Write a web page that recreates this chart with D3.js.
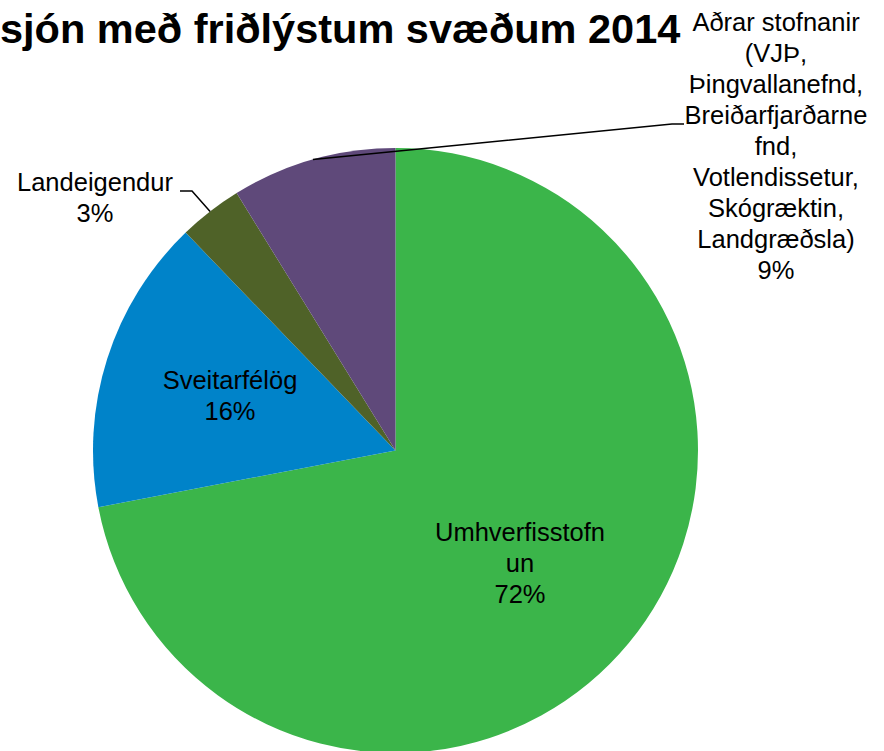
<!DOCTYPE html>
<html>
<head>
<meta charset="utf-8">
<script src="https://d3js.org/d3.v7.min.js"></script>
<style>
  html, body { margin: 0; padding: 0; background: #fff; overflow: hidden; }
  svg { display: block; font-family: "Liberation Sans", Arial, sans-serif; }
</style>
</head>
<body>
<svg></svg>
<script>
// data
const title = "sjón með friðlýstum svæðum 2014";   // left part of the title is off-canvas in the original
const categories = ["Umhverfisstofnun", "Sveitarfélög", "Landeigendur",
  "Aðrar stofnanir (VJÞ, Þingvallanefnd, Breiðarfjarðarnefnd, Votlendissetur, Skógræktin, Landgræðsla)"];
const shares = [72.0, 15.8, 3.4, 8.8];
// how the labels wrap in the original
const labelLines = [
  ["Umhverfisstofn", "un"],
  ["Sveitarfélög"],
  ["Landeigendur"],
  ["Aðrar stofnanir", "(VJÞ,", "Þingvallanefnd,", "Breiðarfjarðarne", "fnd,", "Votlendissetur,", "Skógræktin,", "Landgræðsla)"]
];
const colors = ["#3bb54a", "#0083c9", "#4f6228", "#5f497a"];

let width = 884, height = 751
let cx = 395.5, cy = 450.5, r = 302.5

let svg = d3.select("svg")
  .attr("width", width)
  .attr("height", height)

// label placement (center x, first baseline) and leader elbows
let labelPos = [[520, 541], [230, 389], [95, 191], [776, 31]]
let leaders = { 2: [[192, 191], [180, 191]], 3: [[672, 124], [684, 124]] }
let lineH = 31

let pie = d3.pie().sort(null).value(d => d)
let arcs = pie(shares)
let total = d3.sum(shares)
let pct = d3.format(".0%")

let arc = d3.arc().innerRadius(0).outerRadius(r)

let g = svg.append("g").attr("transform", `translate(${cx},${cy})`)
g.selectAll("path")
  .data(arcs)
  .enter()
  .append("path")
  .attr("d", arc)
  .attr("fill", (d, i) => colors[i])

// leader lines from the slice edge at its mid angle
arcs.forEach((d, i) => {
  if (!leaders[i]) return
  let a = (d.startAngle + d.endAngle) / 2
  let p0 = [cx + r * Math.sin(a), cy - r * Math.cos(a)]
  svg.append("path")
    .attr("d", d3.line()([p0, ...leaders[i]]))
    .attr("fill", "none")
    .attr("stroke", "#000")
    .attr("stroke-width", 1.5)
})

// data labels
arcs.forEach((d, i) => {
  let lines = labelLines[i].concat([pct(d.value / total)])
  let t = svg.append("text")
    .attr("text-anchor", "middle")
    .attr("font-size", "25.5px")
    .attr("fill", "#000")
  lines.forEach((s, k) => {
    t.append("tspan")
      .attr("x", labelPos[i][0])
      .attr("y", labelPos[i][1] + k * lineH)
      .text(s)
  })
})

// title
svg.append("text")
  .attr("x", 0)
  .attr("y", 43)
  .attr("font-size", "41.5px")
  .attr("font-weight", "bold")
  .text(title)
</script>
</body>
</html>
